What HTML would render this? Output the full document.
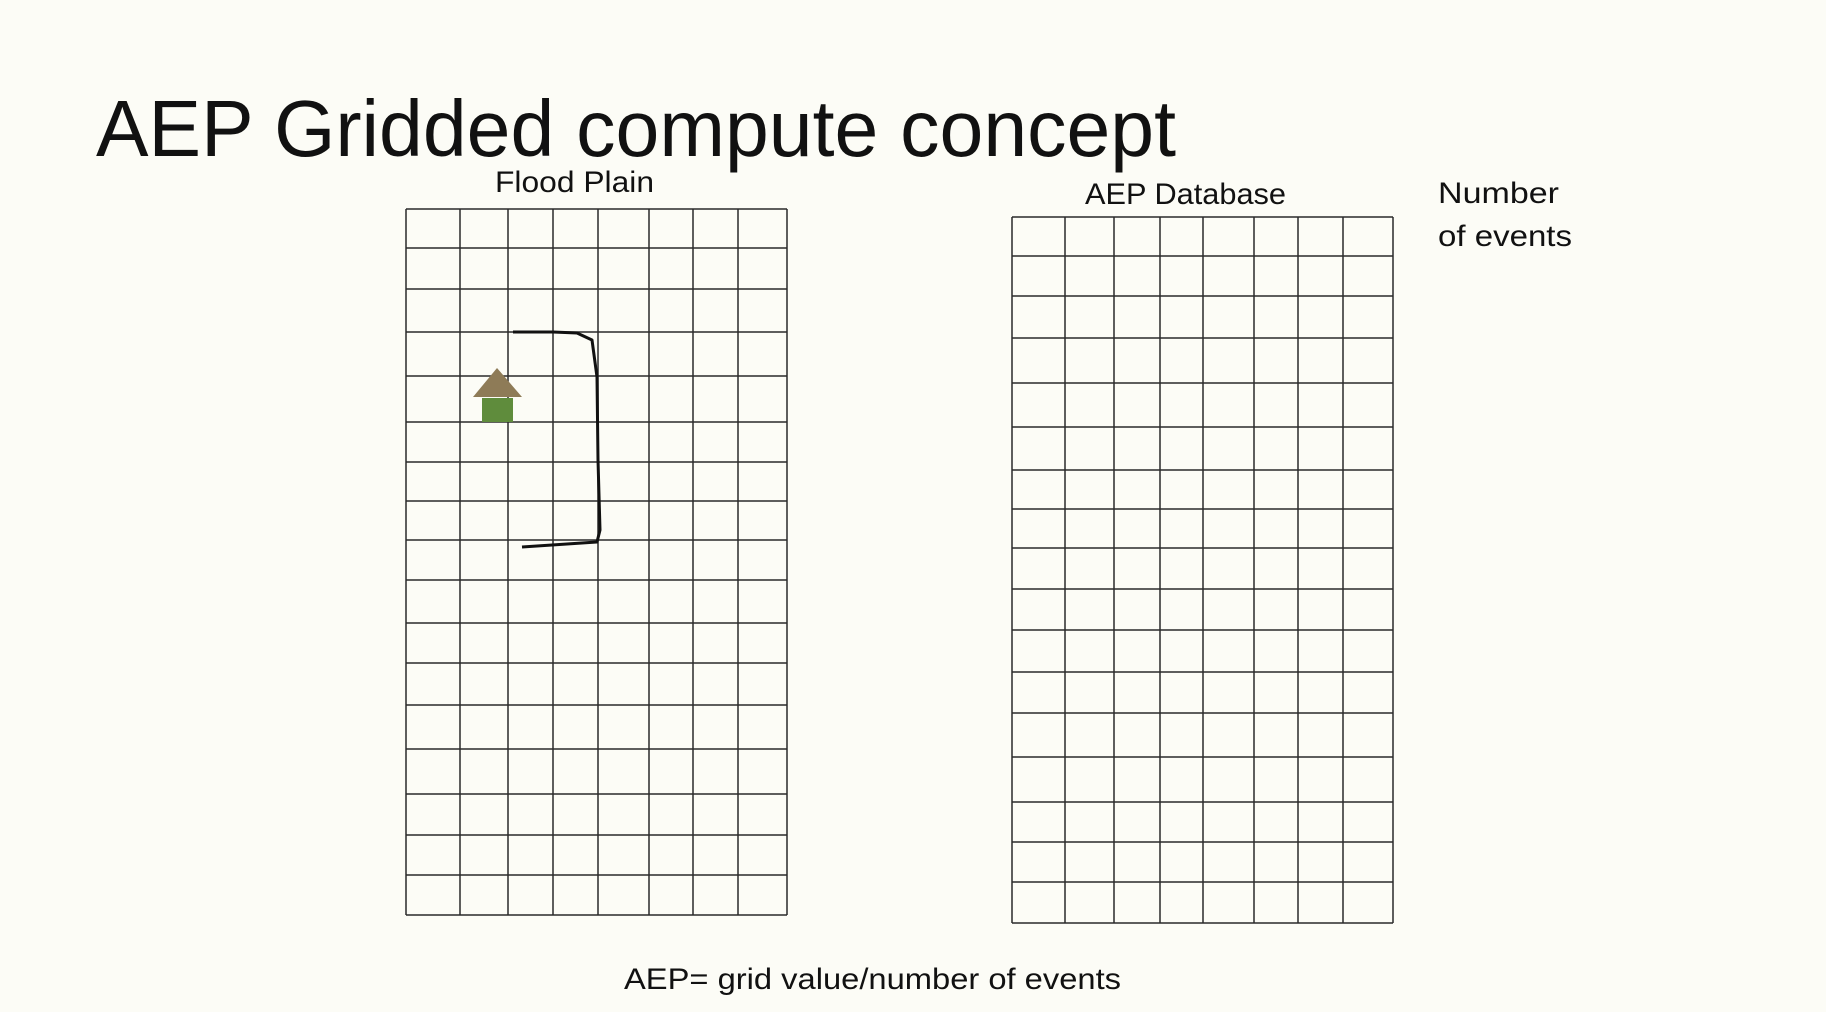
<!DOCTYPE html>
<html><head><meta charset="utf-8"><style>
html,body{margin:0;padding:0;background:#fcfcf6;}
svg{display:block;}
text{font-family:"Liberation Sans",sans-serif;fill:#111;}
</style></head><body>
<svg width="1826" height="1012" viewBox="0 0 1826 1012">
<rect x="0" y="0" width="1826" height="1012" fill="#fcfcf6"/>
<text x="96" y="156" font-size="80" textLength="1080" lengthAdjust="spacingAndGlyphs" style="font-weight:300">AEP Gridded compute concept</text>
<text x="495" y="192" font-size="30" textLength="159" lengthAdjust="spacingAndGlyphs">Flood Plain</text>
<text x="1085" y="204" font-size="30" textLength="201" lengthAdjust="spacingAndGlyphs">AEP Database</text>
<text x="1438" y="203" font-size="30" textLength="121" lengthAdjust="spacingAndGlyphs">Number</text>
<text x="1438" y="246" font-size="30" textLength="134" lengthAdjust="spacingAndGlyphs">of events</text>
<text x="624" y="989" font-size="30" textLength="497" lengthAdjust="spacingAndGlyphs">AEP= grid value/number of events</text>
<g id="grids"></g>
<polygon points="497,368 473,397 522,397" fill="#8e7b57"/>
<rect x="482" y="398" width="31" height="24" fill="#5f8c3c"/>
<path d="M513,332 L553,332 L577,333 L592,340 L597,377 L598,460 L600,530 L597,542 L522,547" fill="none" stroke="#111" stroke-width="3" stroke-linejoin="round"/>
</svg>
<script>
const leftCols=[406,460,508,553,598,649,693,738,787];
const leftRows=[209,248,289,332,376,422,462,501,540,580,623,663,705,749,794,835,875,915];
const rightCols=[1012,1065,1114,1160,1203,1254,1298,1343,1393];
const rightRows=[217,256,296,338,383,427,470,509,548,589,630,672,713,757,802,842,882,923];
const g=document.getElementById('grids');
const NS='http://www.w3.org/2000/svg';
function drawGrid(cols,rows,name){
  const grp=document.createElementNS(NS,'g');
  
  
  const x0=cols[0],x1=cols[cols.length-1],y0=rows[0],y1=rows[rows.length-1];
  cols.forEach(x=>{
    const l=document.createElementNS(NS,'line');
    l.setAttribute('x1',x);l.setAttribute('x2',x);l.setAttribute('y1',y0);l.setAttribute('y2',y1);
    l.setAttribute('stroke','#2a2a2a');l.setAttribute('stroke-width','1.5');
    
    
    grp.appendChild(l);
  });
  rows.forEach(y=>{
    const l=document.createElementNS(NS,'line');
    l.setAttribute('x1',x0);l.setAttribute('x2',x1);l.setAttribute('y1',y);l.setAttribute('y2',y);
    l.setAttribute('stroke','#2a2a2a');l.setAttribute('stroke-width','1.5');
    
    
    grp.appendChild(l);
  });
  g.appendChild(grp);
}
drawGrid(leftCols,leftRows,'flood-plain-grid');
drawGrid(rightCols,rightRows,'aep-database-grid');
</script>
</body></html>
